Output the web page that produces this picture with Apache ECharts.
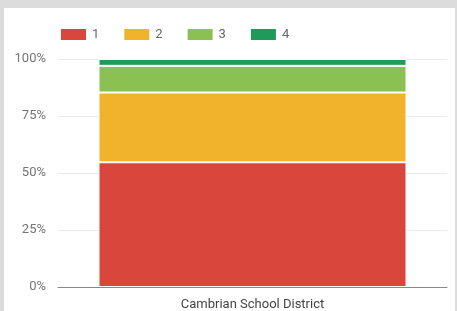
<!DOCTYPE html>
<html>
<head>
<meta charset="utf-8">
<script src="https://cdn.jsdelivr.net/npm/echarts@6/dist/echarts.min.js"></script>
<style>
  html, body { margin: 0; padding: 0; background: #dcdcdc; }
  #chart { position: absolute; left: 4px; top: 8px; width: 451px; height: 303px; background: #fff; }
</style>
</head>
<body>
<div id="chart"></div>
<script>
// data (percent of total)
const categories = ['Cambrian School District'];
const seriesNames = ['1', '2', '3', '4'];
const level1 = [54.7];
const level2 = [30.6];
const level3 = [11.7];
const level4 = [3.0];
const colors = ['#d9463b', '#f1b32b', '#8bc152', '#1f9a5a'];

const chart = echarts.init(document.getElementById('chart'));

const makeSeries = (name, data, i) => ({
  name: name,
  type: 'bar',
  stack: 'total',
  barWidth: 308,
  data: data,
  itemStyle: {
    color: colors[i],
    borderColor: '#fff',
    borderWidth: 1
  }
});

let option = {
  animation: false,
  textStyle: { fontFamily: 'Roboto' },
  legend: {
    left: 50,
    top: 14,
    itemWidth: 27,
    itemHeight: 13,
    itemGap: 23,
    icon: 'rect',
    textStyle: { fontSize: 13, color: '#666' }
  },
  grid: { left: 54, right: 8, top: 51, bottom: 21 },
  xAxis: {
    type: 'category',
    data: categories,
    axisTick: { show: false },
    axisLine: { lineStyle: { color: '#888', width: 1 } },
    axisLabel: { fontSize: 13, color: '#444', margin: 11 }
  },
  yAxis: {
    type: 'value',
    min: 0,
    max: 100,
    interval: 25,
    axisLabel: { formatter: '{value}%', fontSize: 13, color: '#757575', margin: 12 },
    splitLine: { lineStyle: { color: '#ebebeb' } }
  },
  series: [
    makeSeries(seriesNames[0], level1, 0),
    makeSeries(seriesNames[1], level2, 1),
    makeSeries(seriesNames[2], level3, 2),
    makeSeries(seriesNames[3], level4, 3)
  ]
};

chart.setOption(option);
</script>
</body>
</html>
